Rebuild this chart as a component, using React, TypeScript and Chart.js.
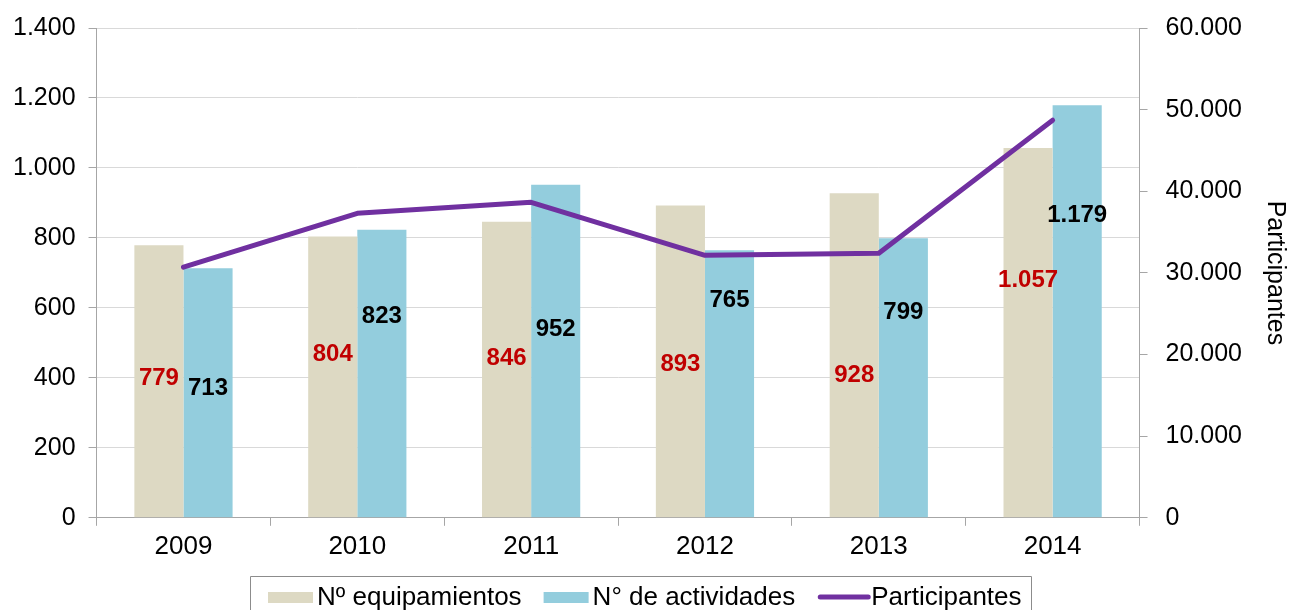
import React, { useEffect, useRef } from "react";
import { Chart, registerables } from "chart.js";

Chart.register(...registerables);

const years = ["2009", "2010", "2011", "2012", "2013", "2014"];
const equipamientos = [779, 804, 846, 893, 928, 1057];
const actividades = [713, 823, 952, 765, 799, 1179];
const participantes = [30700, 37300, 38650, 32150, 32400, 48700];
// where each data label sits, in left-axis units (labels were placed by hand in the original)
const equipLabelAt = [398, 467, 455, 438, 407, 679];
const activLabelAt = [369, 575, 538, 621, 587, 865];

const seriesNames = ["Nº equipamientos", "N° de actividades", "Participantes"];
const rightTitle = "Participantes";

const FONT = "'Liberation Sans', Arial, sans-serif";
const BEIGE = "#DDD9C3";
const BLUE = "#93CDDD";
const PURPLE = "#7030A0";
const AXIS = "#A6A6A6";
const GRID = "#D9D9D9";
const SHIFT = 5; // canvas is nudged up so the top gridline sits where the original's does

const fmt = (n: number) => String(Math.round(n)).replace(/\B(?=(\d{3})+(?!\d))/g, ".");

const labelPlugin = {
  id: "barLabels",
  afterDatasetsDraw(chart: any) {
    const ctx = chart.ctx;
    const y = chart.scales.y;
    const sets = [
      { di: 0, vals: equipamientos, at: equipLabelAt, color: "#C00000" },
      { di: 1, vals: actividades, at: activLabelAt, color: "#000000" },
    ];
    ctx.save();
    ctx.font = `bold 24px ${FONT}`;
    ctx.textAlign = "center";
    ctx.textBaseline = "middle";
    sets.forEach((s) => {
      const meta = chart.getDatasetMeta(s.di);
      meta.data.forEach((el: any, i: number) => {
        ctx.fillStyle = s.color;
        ctx.fillText(fmt(s.vals[i]), el.x, y.getPixelForValue(s.at[i]));
      });
    });
    ctx.restore();
  },
};

// Excel-like legend drawn by hand: swatch, small gap, text; boxed on three sides
const legendPlugin = {
  id: "excelLegend",
  afterDraw(chart: any) {
    const ctx = chart.ctx;
    const ds = chart.data.datasets;
    ctx.save();
    ctx.font = `26px ${FONT}`;
    ctx.textBaseline = "middle";
    ctx.textAlign = "left";
    const items = ds.map((d: any, i: number) => {
      const isLine = d.type === "line";
      const sw = isLine ? 54 : 45;
      const gap = isLine ? 0 : 4;
      const tw = ctx.measureText(d.label).width;
      return { d, isLine, sw, gap, tw, w: sw + gap + tw, i };
    });
    const spacing = 22;
    const total = items.reduce((a: number, it: any) => a + it.w, 0) + spacing * (items.length - 1);
    const cy = chart.height - 13;
    let x = Math.round(chart.width / 2 - total / 2);
    const startX = x;
    items.forEach((it: any) => {
      if (it.isLine) {
        ctx.strokeStyle = it.d.borderColor;
        ctx.lineWidth = 5;
        ctx.lineCap = "round";
        ctx.beginPath();
        ctx.moveTo(x + 3, cy);
        ctx.lineTo(x + it.sw - 3, cy);
        ctx.stroke();
      } else {
        ctx.fillStyle = it.d.backgroundColor;
        ctx.fillRect(x, cy - 5, it.sw, 11);
      }
      ctx.fillStyle = "#000";
      ctx.fillText(it.d.label, x + it.sw + it.gap, cy + 1);
      x += it.w + spacing;
    });
    const endX = x - spacing;
    ctx.strokeStyle = "#8C8C8C";
    ctx.lineWidth = 1;
    ctx.lineCap = "butt";
    const top = Math.round(cy - 21) + 0.5;
    const l = Math.round(startX - 18) + 0.5;
    const r = Math.round(endX + 9) + 0.5;
    ctx.beginPath();
    ctx.moveTo(l, chart.height + 2);
    ctx.lineTo(l, top);
    ctx.lineTo(r, top);
    ctx.lineTo(r, chart.height + 2);
    ctx.stroke();
    ctx.restore();
  },
};

export default function App() {
  const ref = useRef<HTMLCanvasElement>(null);

  useEffect(() => {
    if (!ref.current) return;
    Chart.defaults.font.family = FONT;
    const chart = new Chart(ref.current, {
      type: "bar",
      data: {
        labels: years,
        datasets: [
          {
            type: "bar",
            label: seriesNames[0],
            data: equipamientos,
            backgroundColor: BEIGE,
            yAxisID: "y",
            categoryPercentage: 0.565,
            barPercentage: 1,
            order: 1,
          },
          {
            type: "bar",
            label: seriesNames[1],
            data: actividades,
            backgroundColor: BLUE,
            yAxisID: "y",
            categoryPercentage: 0.565,
            barPercentage: 1,
            order: 1,
          },
          {
            type: "line",
            label: seriesNames[2],
            data: participantes,
            borderColor: PURPLE,
            backgroundColor: PURPLE,
            borderWidth: 5,
            borderCapStyle: "round",
            borderJoinStyle: "round",
            pointRadius: 0,
            tension: 0,
            yAxisID: "y2",
            order: 0,
          } as any,
        ],
      },
      options: {
        animation: false,
        responsive: true,
        maintainAspectRatio: false,
        layout: { padding: { left: 0, right: 0, top: 9, bottom: 43 } },
        plugins: {
          tooltip: { enabled: false },
          legend: { display: false },
        },
        scales: {
          x: {
            offset: true,
            grid: { offset: true, drawOnChartArea: false, drawTicks: true, tickLength: 8, color: AXIS },
            border: { color: AXIS },
            ticks: { color: "#000", font: { size: 26 }, padding: 5, maxRotation: 0 },
          },
          y: {
            position: "left",
            min: 0,
            max: 1400,
            ticks: { stepSize: 200, color: "#000", font: { size: 25 }, padding: 13, callback: (v: any) => fmt(Number(v)) },
            grid: { color: GRID, tickColor: AXIS, tickLength: 8 },
            border: { color: AXIS },
          },
          y2: {
            position: "right",
            min: 0,
            max: 60000,
            ticks: { stepSize: 10000, color: "#000", font: { size: 25 }, padding: 18, callback: (v: any) => fmt(Number(v)) },
            grid: { drawOnChartArea: false, tickColor: AXIS, tickLength: 8 },
            border: { color: AXIS },
            title: { display: true, text: rightTitle, color: "#000", font: { size: 25 }, padding: { top: 0, bottom: 0 } },
          },
        },
      },
      plugins: [labelPlugin, legendPlugin],
    });
    return () => chart.destroy();
  }, []);

  return (
    <div style={{ position: "fixed", left: 0, top: 0, width: 1290, height: 610, overflow: "hidden", background: "#fff" }}>
      <div style={{ position: "absolute", left: 0, top: -SHIFT, width: 1290, height: 610 + SHIFT }}>
        <canvas ref={ref} />
      </div>
    </div>
  );
}
